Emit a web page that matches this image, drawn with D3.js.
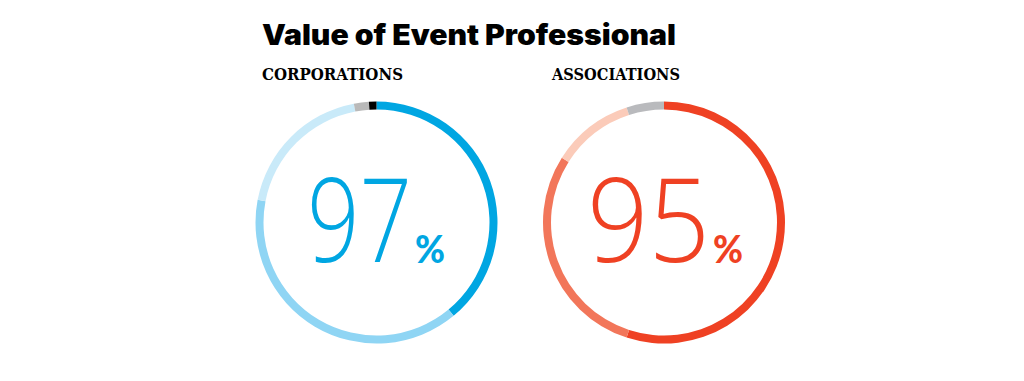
<!DOCTYPE html>
<html>
<head>
<meta charset="utf-8">
<script src="https://cdn.jsdelivr.net/npm/d3@7"></script>
<style>
  html, body { margin: 0; padding: 0; background: #fff; }
  svg { display: block; }
</style>
</head>
<body>
<svg id="chart"></svg>
<script>
// Share of respondents rating the event professional, per group (clockwise from 12 o'clock).
const groups = ['CORPORATIONS', 'ASSOCIATIONS'];
const totals = [97, 95];
const corpValues = [39, 39, 19, 2, 1];
const assocValues = [55, 29, 11, 5];
const corpColors = ['#00a6e2', '#8fd5f4', '#c9eaf9', '#b9b9b9', '#000000'];
const assocColors = ['#ef4123', '#f2765a', '#fbcbb9', '#b9babd'];
const accent = ['#00a6e2', '#ef4123'];

const width = 1024;
const height = 381;
const svg = d3.select('#chart').attr('width', width).attr('height', height);

svg.append('text')
  .attr('x', 262)
  .attr('y', 45)
  .attr('font-family', 'Inter, "Liberation Sans", sans-serif')
  .attr('font-weight', 900)
  .attr('font-size', 28)
  .attr('textLength', 414)
  .attr('lengthAdjust', 'spacingAndGlyphs')
  .attr('fill', '#000')
  .text('Value of Event Professional');

const rings = [
  { label: groups[0], total: totals[0], values: corpValues, colors: corpColors, cx: 376.5, lx: 262, lw: 141, nx: 307, nw: 105, px: 415 },
  { label: groups[1], total: totals[1], values: assocValues, colors: assocColors, cx: 664, lx: 552, lw: 128, nx: 587, nw: 123, px: 713 },
];

const pie = d3.pie().sort(null).value((d) => d);
const arc = d3.arc().innerRadius(113).outerRadius(121);

rings.forEach((r, i) => {
  svg.append('text')
    .attr('x', r.lx)
    .attr('y', 80)
    .attr('font-family', '"DejaVu Serif", serif')
    .attr('font-weight', 'bold')
    .attr('font-size', 17)
    .attr('textLength', r.lw)
    .attr('lengthAdjust', 'spacingAndGlyphs')
    .attr('fill', '#000')
    .text(r.label);

  const g = svg.append('g').attr('transform', `translate(${r.cx},222.5)`);
  g.selectAll('path')
    .data(pie(r.values))
    .join('path')
    .attr('d', arc)
    .attr('fill', (d, j) => r.colors[j]);

  // number and percent sign share one text so they sit together
  const t = svg.append('text')
    .attr('y', 262)
    .attr('fill', accent[i]);
  t.append('tspan')
    .attr('x', r.nx)
    .attr('font-family', '"Open Sans", sans-serif')
    .attr('font-weight', 300)
    .attr('font-size', 117)
    .attr('textLength', r.nw)
    .attr('lengthAdjust', 'spacingAndGlyphs')
    .text(r.total);
  t.append('tspan')
    .attr('x', r.px)
    .attr('y', 263)
    .attr('font-family', 'Lato, "Open Sans", sans-serif')
    .attr('font-weight', 900)
    .attr('font-size', 37)
    .attr('textLength', 30)
    .attr('lengthAdjust', 'spacingAndGlyphs')
    .text('%');
});
</script>
</body>
</html>
